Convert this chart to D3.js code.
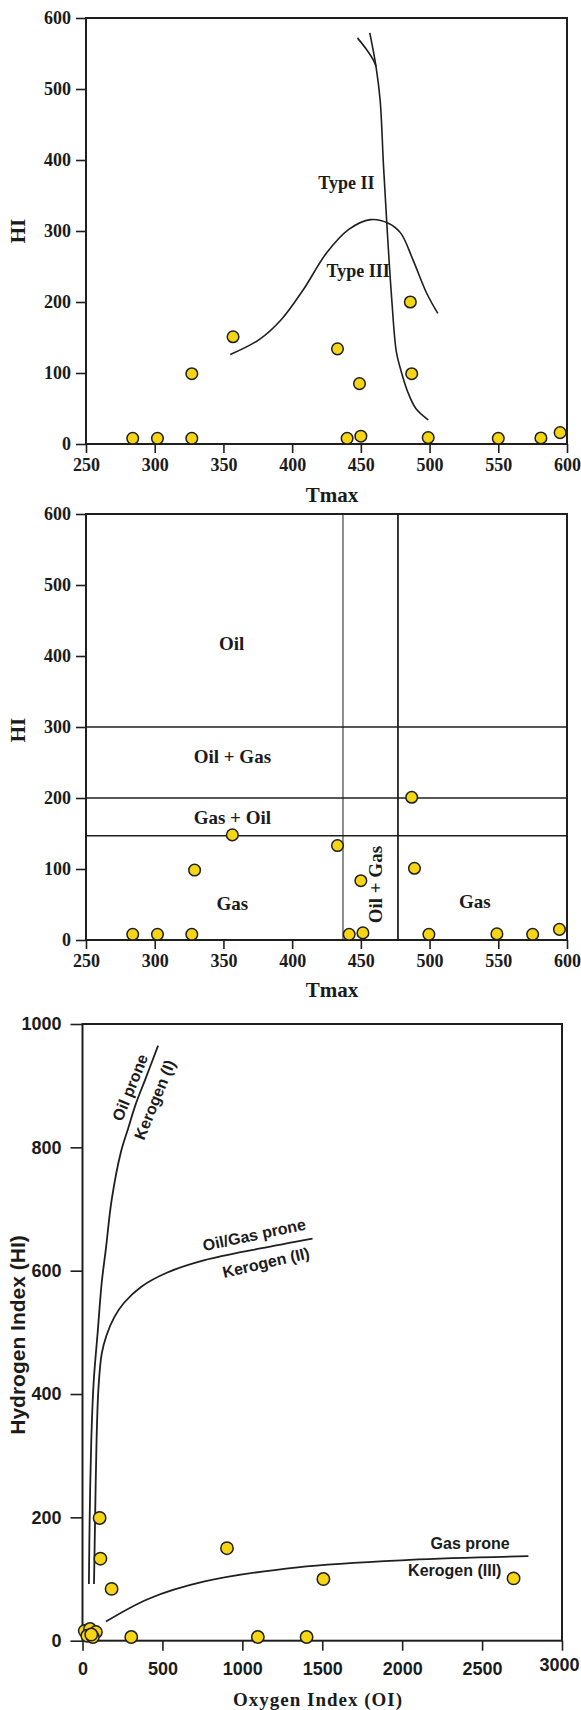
<!DOCTYPE html>
<html>
<head>
<meta charset="utf-8">
<script src="https://cdn.jsdelivr.net/npm/d3@7/dist/d3.min.js"></script>
<style>
  body { margin: 0; background: #fff; }
  svg text { fill: #1b1b1b; }
</style>
</head>
<body>
<svg id="fig" width="581" height="1710"></svg>
<script>
// --- data ---

// panel 1 & 2: HI vs Tmax
const tmaxTicks = [250, 300, 350, 400, 450, 500, 550, 600];
const hiTicks = [0, 100, 200, 300, 400, 500, 600];

const tmaxA = [284, 302, 327, 327, 357, 433, 449, 440, 450, 486, 487, 499, 550, 581, 595];
const hiA   = [8, 8, 8, 99, 151, 134, 85, 8, 11, 200, 99, 9, 8, 8.5, 16];

const tmaxB = [284, 302, 327, 329, 356.5, 433, 450, 441.5, 451.5, 487, 489, 499.5, 549, 575, 594.5];
const hiB   = [8, 8, 8, 98.5, 148, 133, 83.5, 8, 10, 201, 101, 8, 8.6, 8, 15];

// kerogen type boundaries on panel 1 ([Tmax, HI])
const typeDivide = [[456.5, 579], [461, 532], [464, 485], [466.5, 391], [469.3, 297], [472.5, 203],
                    [475.8, 130], [478.8, 106], [484, 74], [490, 50], [499, 34]];
const typeDivideTop = [[447.5, 572], [454, 556], [459, 541], [461, 532]];
const typeBell = [[355, 126], [376, 147], [392, 175], [408, 217], [425, 269], [441, 302], [457, 316],
                  [470, 311], [479, 297], [488, 259], [498, 212], [506, 184]];
const typeLabels = [{t: "Type II", x: 439.5, y: 368}, {t: "Type III", x: 448, y: 243}];

// panel 2 zone limits
const tmaxLimits = [437, 477];
const hiLimits = [300, 200, 147];
const zoneLabels = [
  {t: "Oil", x: 356, y: 417, r: 0},
  {t: "Oil + Gas", x: 356.5, y: 258, r: 0},
  {t: "Gas + Oil", x: 356.5, y: 173, r: 0},
  {t: "Gas", x: 356.5, y: 52, r: 0},
  {t: "Gas", x: 533, y: 54, r: 0},
  {t: "Oil + Gas", x: 461, y: 78, r: -90}
];

// panel 3: HI vs OI
const oiTicks = [0, 500, 1000, 1500, 2000, 2500, 3000];
const hiTicks3 = [0, 200, 400, 600, 800, 1000];
const oi  = [107, 112, 182, 904, 1507, 2697, 305, 1097, 1402, 14, 47, 84, 30, 65, 55];
const hiC = [199, 133, 84, 150, 100, 101, 6, 6, 6, 16, 19, 14, 8, 6, 10];

const kerogenI = [[40, 92], [45, 200], [55, 325], [70, 420], [95, 500], [120, 580], [147, 637], [182, 714],
                  [240, 792], [286, 831], [333, 870], [391, 909], [473, 965]];
const kerogenII = [[72, 92], [79, 200], [88, 325], [100, 410], [120, 465], [150, 495], [200, 525], [260, 548],
                   [368, 574], [531, 597], [764, 617], [1113, 636], [1439, 652]];
const kerogenIII = [[147, 31], [415, 68], [764, 96], [1346, 119], [2045, 131], [2790, 137]];
const kerogenLabels = [
  {t: "Oil prone", x: 298, y: 897, r: -68},
  {t: "Kerogen (I)", x: 452, y: 877, r: -68},
  {t: "Oil/Gas prone", x: 1074, y: 658, r: -12},
  {t: "Kerogen (II)", x: 1148, y: 613, r: -13},
  {t: "Gas prone", x: 2425, y: 158, r: 0},
  {t: "Kerogen (III)", x: 2329, y: 114, r: 0}
];

// --- drawing ---

const serif = "'Liberation Serif', 'Times New Roman', serif";
const sans = "'Liberation Sans', Arial, sans-serif";
const ink = "#1f1f1f";
const dotFill = "#f6d515";

const svg = d3.select("#fig");

function frame(g, x, y, o) {
  const [x0, x1] = x.range(), [y0, y1] = y.range();

  const ax = g.append("g").attr("transform", `translate(0,${y0})`)
    .call(d3.axisBottom(x).tickValues(o.xTicks).tickSize(o.tickX).tickPadding(o.padX).tickFormat(d3.format("d")));
  const ay = g.append("g").attr("transform", `translate(${x0},0)`)
    .call(d3.axisLeft(y).tickValues(o.yTicks).tickSize(o.tickY).tickPadding(o.padY).tickFormat(d3.format("d")));

  [ax, ay].forEach(a => {
    a.select(".domain").remove();
    a.selectAll(".tick line").attr("stroke", ink).attr("stroke-width", 1.6);
    a.selectAll(".tick text").attr("fill", ink)
      .style("font-family", o.font).style("font-weight", "bold").style("font-size", o.tickSize + "px");
  });
  return ax;
}

function box(g, x, y) {
  const [x0, x1] = x.range(), [y0, y1] = y.range();
  g.append("rect")
    .attr("x", x0).attr("y", y1).attr("width", x1 - x0).attr("height", y0 - y1)
    .attr("fill", "none").attr("stroke", ink).attr("stroke-width", 2);
}

function dots(g, x, y, xs, ys, r) {
  g.append("g").selectAll("circle").data(xs.map((d, i) => [d, ys[i]])).join("circle")
    .attr("cx", d => x(d[0])).attr("cy", d => y(d[1])).attr("r", r)
    .attr("fill", dotFill).attr("stroke", ink).attr("stroke-width", 1.5);
}

function curve(g, x, y, pts, w) {
  const line = d3.line().x(d => x(d[0])).y(d => y(d[1])).curve(d3.curveCatmullRom.alpha(0.5));
  g.append("path").attr("d", line(pts)).attr("fill", "none").attr("stroke", ink).attr("stroke-width", w);
}

function label(g, txt, px, py, rot, font, size, extra) {
  const t = g.append("text")
    .attr("transform", `translate(${px},${py}) rotate(${rot})`)
    .attr("text-anchor", "middle").attr("dominant-baseline", "central")
    .style("font-family", font).style("font-weight", "bold").style("font-size", size + "px")
    .text(txt);
  if (extra) t.style("letter-spacing", extra + "px");
  return t;
}

// panel 1
{
  const g = svg.append("g");
  const x = d3.scaleLinear().domain([250, 600]).range([86, 567]);
  const y = d3.scaleLinear().domain([0, 600]).range([444, 18]);
  frame(g, x, y, {xTicks: tmaxTicks, yTicks: hiTicks, tickX: 9, padX: 5, tickY: 10, padY: 5, font: serif, tickSize: 18});
  box(g, x, y);
  curve(g, x, y, typeBell, 1.6);
  curve(g, x, y, typeDivide, 1.6);
  curve(g, x, y, typeDivideTop, 1.6);
  typeLabels.forEach(d => label(g, d.t, x(d.x), y(d.y), 0, serif, 18));
  dots(g, x, y, tmaxA, hiA, 5.8);
  label(g, "HI", 17.5, 231, -90, serif, 21);
  label(g, "Tmax", 332, 495, 0, serif, 21);
}

// panel 2
{
  const g = svg.append("g");
  const x = d3.scaleLinear().domain([250, 600]).range([86, 567]);
  const y = d3.scaleLinear().domain([0, 600]).range([940, 514]);
  frame(g, x, y, {xTicks: tmaxTicks, yTicks: hiTicks, tickX: 9, padX: 5, tickY: 10, padY: 5, font: serif, tickSize: 18});
  box(g, x, y);
  g.append("g").selectAll("line").data(hiLimits).join("line")
    .attr("x1", x(250)).attr("x2", x(600)).attr("y1", d => y(d)).attr("y2", d => y(d))
    .attr("stroke", ink).attr("stroke-width", 1.5);
  g.append("g").selectAll("line").data(tmaxLimits).join("line")
    .attr("x1", d => x(d)).attr("x2", d => x(d)).attr("y1", y(0)).attr("y2", y(600))
    .attr("stroke", ink).attr("stroke-width", (d, i) => i === 0 ? 1 : 1.8);
  zoneLabels.forEach(d => label(g, d.t, x(d.x), y(d.y), d.r, serif, 19));
  dots(g, x, y, tmaxB, hiB, 5.8);
  label(g, "HI", 17.5, 730, -90, serif, 21);
  label(g, "Tmax", 332, 990, 0, serif, 21);
}

// panel 3
{
  const g = svg.append("g");
  const x = d3.scaleLinear().domain([0, 3000]).range([82.5, 562]);
  const y = d3.scaleLinear().domain([0, 1000]).range([1640.7, 1024]);
  const ax = frame(g, x, y, {xTicks: oiTicks, yTicks: hiTicks3, tickX: 10, padX: 12, tickY: 12, padY: 9, font: sans, tickSize: 18});
  // last label sits flush with the right edge and a touch higher, as in the original
  ax.selectAll(".tick text").filter(d => d === 3000).attr("text-anchor", "end").attr("dx", 17).attr("dy", "0.45em");
  box(g, x, y);
  curve(g, x, y, kerogenI, 1.8);
  curve(g, x, y, kerogenII, 1.8);
  curve(g, x, y, kerogenIII, 1.8);
  kerogenLabels.forEach(d => label(g, d.t, x(d.x), y(d.y), d.r, sans, 16));
  dots(g, x, y, oi, hiC, 6.2);
  label(g, "Hydrogen Index (HI)", 17.5, 1335, -90, sans, 21);
  label(g, "Oxygen Index (OI)", 318, 1699, 0, serif, 19, 1);
}
</script>
</body>
</html>
